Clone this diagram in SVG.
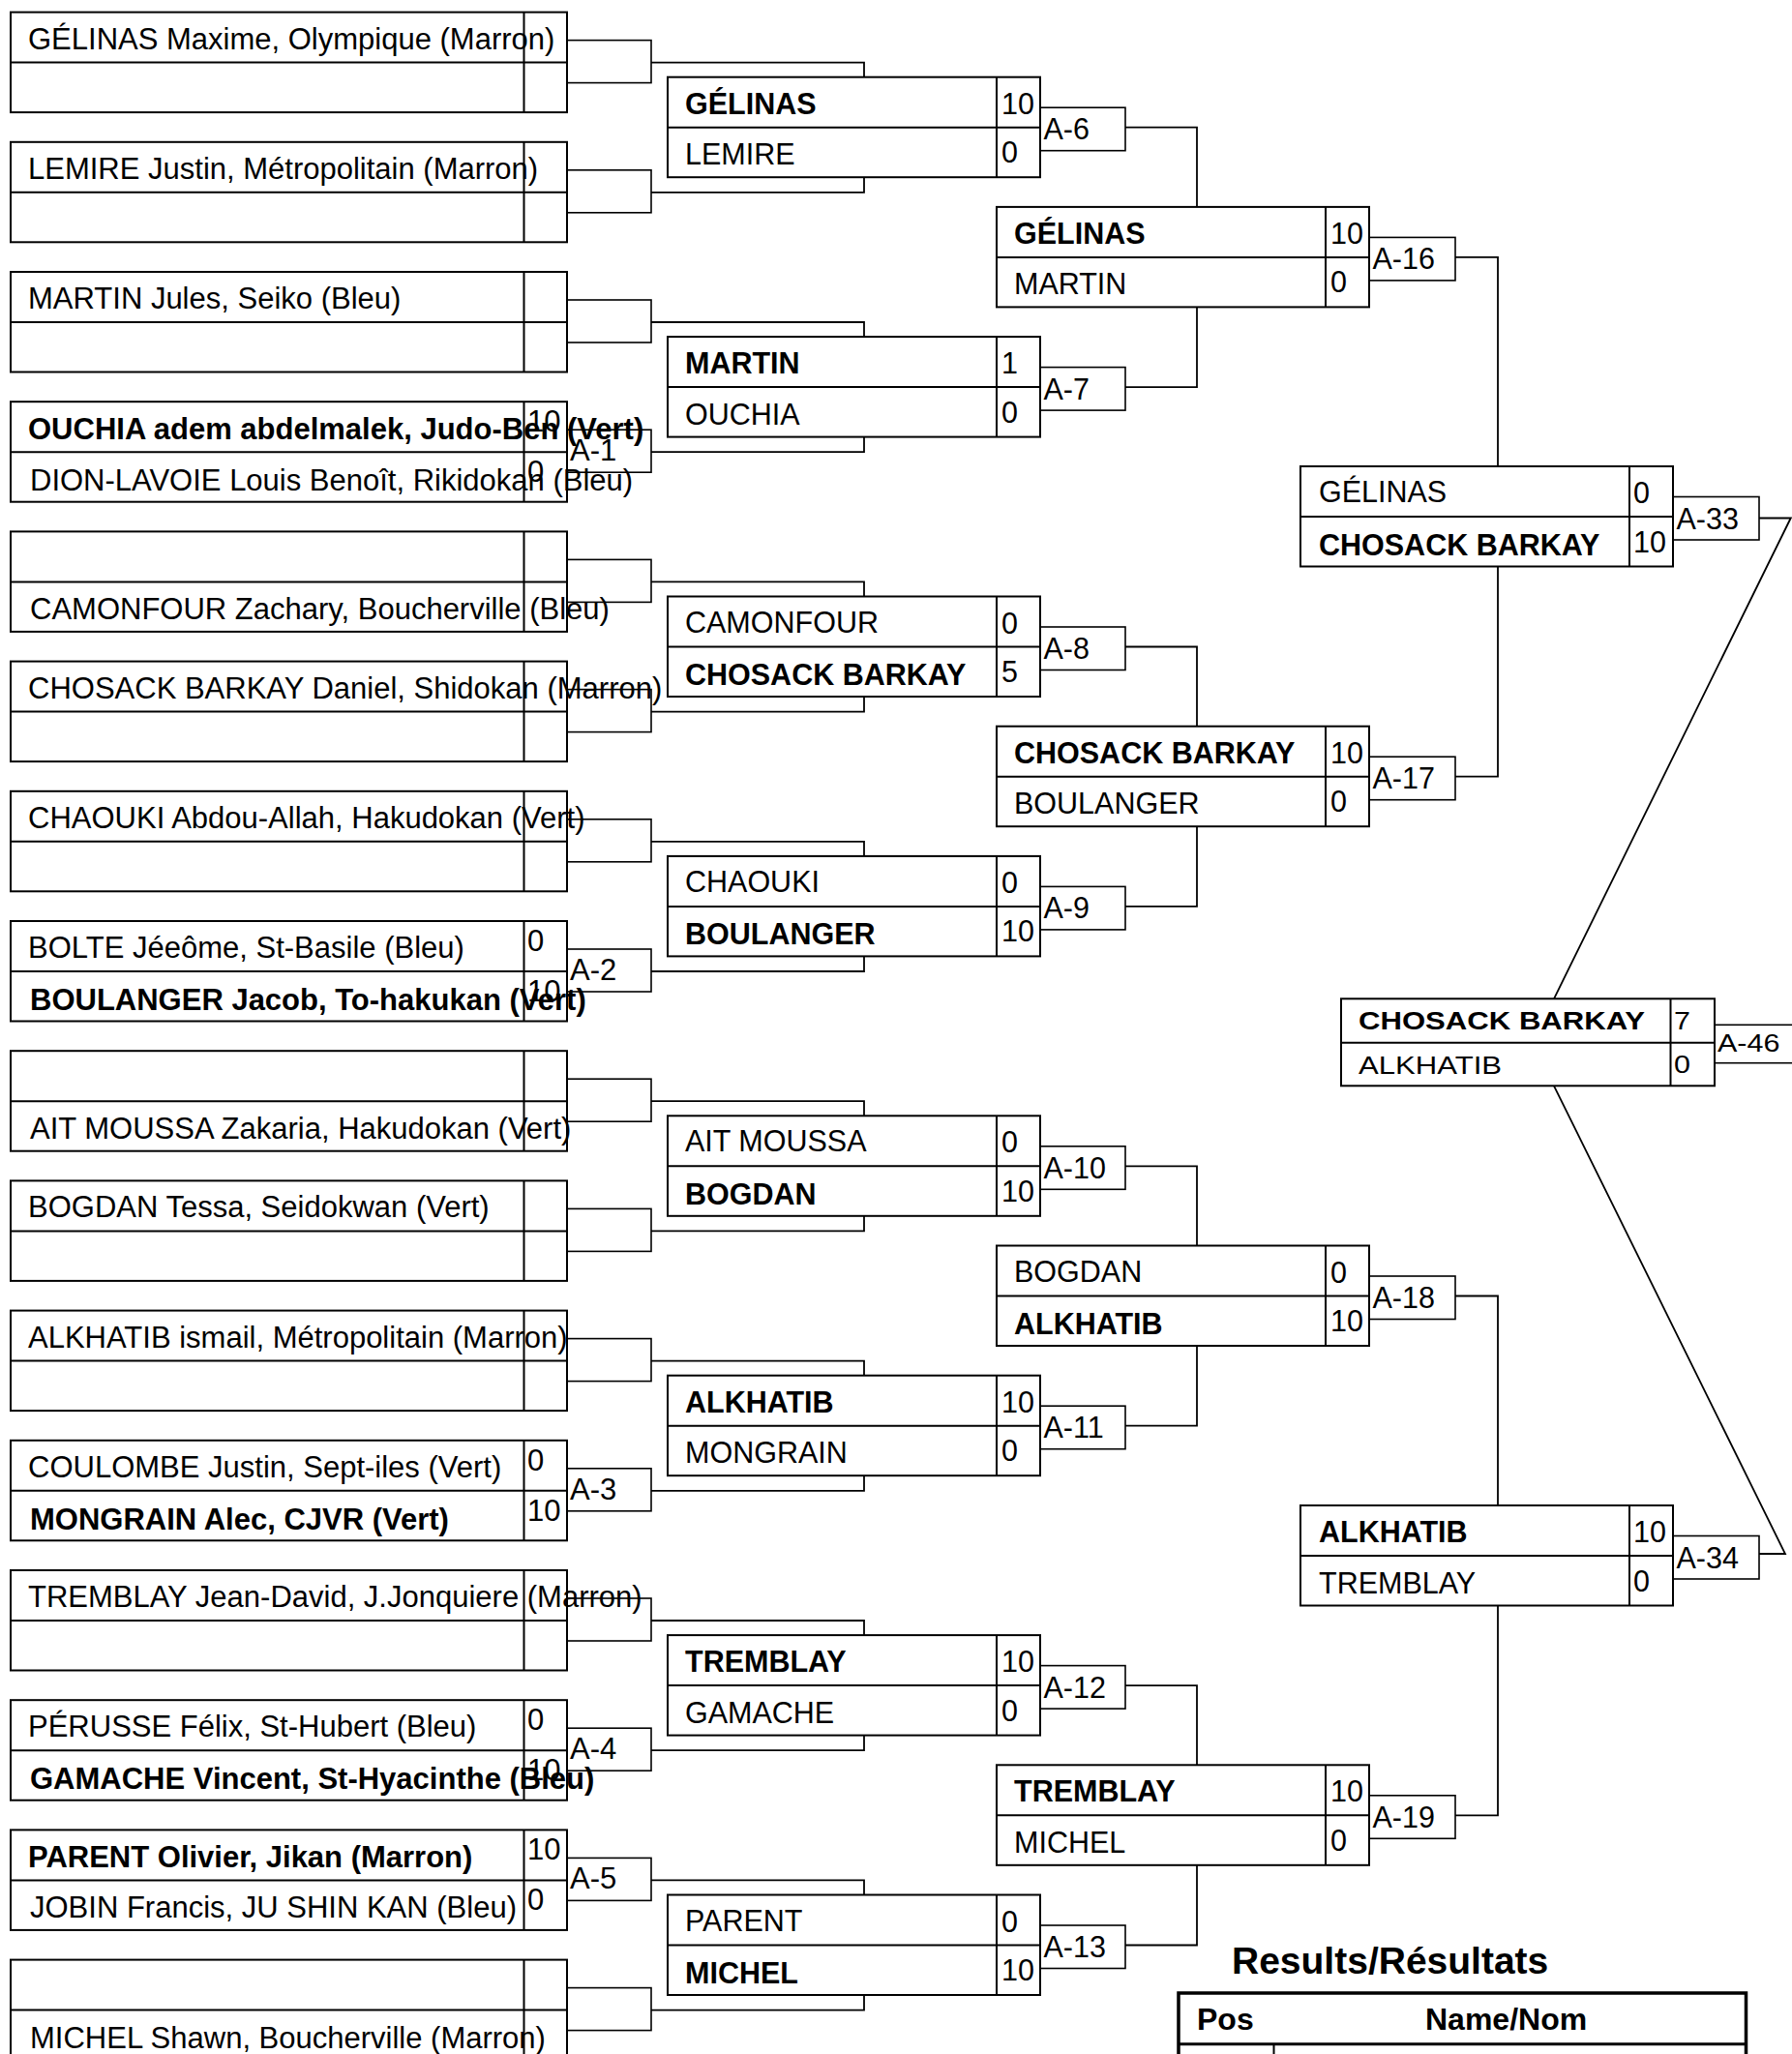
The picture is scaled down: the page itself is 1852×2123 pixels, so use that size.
<svg xmlns="http://www.w3.org/2000/svg" width="1852" height="2123" viewBox="0 0 1852 2123">
<style>
.box{fill:none;stroke:#000;stroke-width:2}
.in{fill:none;stroke:#000;stroke-width:2}
.lab{fill:none;stroke:#000;stroke-width:1.6}
.con{fill:none;stroke:#000;stroke-width:1.8}
text{font-family:"Liberation Sans",Arial,sans-serif;font-size:30.5px;fill:#000}
.t1{font-size:31px}
.b{font-weight:bold}
.ttl{font-weight:bold;font-size:39px}
.hd{font-weight:bold;font-size:32px}
</style>
<rect width="1852" height="2123" fill="#fff"/>

<!-- Round 1 -->
<g id="r1-0" transform="translate(0 64.6)">
<rect class="box" x="11" y="-52" width="575" height="103.5"/><path class="in" d="M11 0H586M541.5 -52V51.5"/><rect class="lab" x="586" y="-23" width="87" height="44"/>
<text class="t1" x="29" y="-14">GÉLINAS Maxime, Olympique (Marron)</text>
</g>
<g id="r1-1" transform="translate(0 198.8)">
<rect class="box" x="11" y="-52" width="575" height="103.5"/><path class="in" d="M11 0H586M541.5 -52V51.5"/><rect class="lab" x="586" y="-23" width="87" height="44"/>
<text class="t1" x="29" y="-14">LEMIRE Justin, Métropolitain (Marron)</text>
</g>
<g id="r1-2" transform="translate(0 333)">
<rect class="box" x="11" y="-52" width="575" height="103.5"/><path class="in" d="M11 0H586M541.5 -52V51.5"/><rect class="lab" x="586" y="-23" width="87" height="44"/>
<text class="t1" x="29" y="-14">MARTIN Jules, Seiko (Bleu)</text>
</g>
<g id="r1-3" transform="translate(0 467.2)">
<rect class="box" x="11" y="-52" width="575" height="103.5"/><path class="in" d="M11 0H586M541.5 -52V51.5"/><rect class="lab" x="586" y="-23" width="87" height="44"/>
<text class="t1 b" x="29" y="-13">OUCHIA adem abdelmalek, Judo-Ben (Vert)</text>
<text class="t1" x="31" y="40">DION-LAVOIE Louis Benoît, Rikidokan (Bleu)</text>
<text class="t1" x="545" y="-21">10</text><text class="t1" x="545" y="31">0</text>
<text class="t1" x="589" y="9">A-1</text>
</g>
<g id="r1-4" transform="translate(0 601.4)">
<rect class="box" x="11" y="-52" width="575" height="103.5"/><path class="in" d="M11 0H586M541.5 -52V51.5"/><rect class="lab" x="586" y="-23" width="87" height="44"/>
<text class="t1" x="31" y="39">CAMONFOUR Zachary, Boucherville (Bleu)</text>
</g>
<g id="r1-5" transform="translate(0 735.6)">
<rect class="box" x="11" y="-52" width="575" height="103.5"/><path class="in" d="M11 0H586M541.5 -52V51.5"/><rect class="lab" x="586" y="-23" width="87" height="44"/>
<text class="t1" x="29" y="-14">CHOSACK BARKAY Daniel, Shidokan (Marron)</text>
</g>
<g id="r1-6" transform="translate(0 869.8)">
<rect class="box" x="11" y="-52" width="575" height="103.5"/><path class="in" d="M11 0H586M541.5 -52V51.5"/><rect class="lab" x="586" y="-23" width="87" height="44"/>
<text class="t1" x="29" y="-14">CHAOUKI Abdou-Allah, Hakudokan (Vert)</text>
</g>
<g id="r1-7" transform="translate(0 1004)">
<rect class="box" x="11" y="-52" width="575" height="103.5"/><path class="in" d="M11 0H586M541.5 -52V51.5"/><rect class="lab" x="586" y="-23" width="87" height="44"/>
<text class="t1" x="29" y="-14">BOLTE Jéeôme, St-Basile (Bleu)</text>
<text class="t1 b" x="31" y="40">BOULANGER Jacob, To-hakukan (Vert)</text>
<text class="t1" x="545" y="-21">0</text><text class="t1" x="545" y="31">10</text>
<text class="t1" x="589" y="9">A-2</text>
</g>
<g id="r1-8" transform="translate(0 1138.2)">
<rect class="box" x="11" y="-52" width="575" height="103.5"/><path class="in" d="M11 0H586M541.5 -52V51.5"/><rect class="lab" x="586" y="-23" width="87" height="44"/>
<text class="t1" x="31" y="39">AIT MOUSSA Zakaria, Hakudokan (Vert)</text>
</g>
<g id="r1-9" transform="translate(0 1272.4)">
<rect class="box" x="11" y="-52" width="575" height="103.5"/><path class="in" d="M11 0H586M541.5 -52V51.5"/><rect class="lab" x="586" y="-23" width="87" height="44"/>
<text class="t1" x="29" y="-14">BOGDAN Tessa, Seidokwan (Vert)</text>
</g>
<g id="r1-10" transform="translate(0 1406.6)">
<rect class="box" x="11" y="-52" width="575" height="103.5"/><path class="in" d="M11 0H586M541.5 -52V51.5"/><rect class="lab" x="586" y="-23" width="87" height="44"/>
<text class="t1" x="29" y="-14">ALKHATIB ismail, Métropolitain (Marron)</text>
</g>
<g id="r1-11" transform="translate(0 1540.8)">
<rect class="box" x="11" y="-52" width="575" height="103.5"/><path class="in" d="M11 0H586M541.5 -52V51.5"/><rect class="lab" x="586" y="-23" width="87" height="44"/>
<text class="t1" x="29" y="-14">COULOMBE Justin, Sept-iles (Vert)</text>
<text class="t1 b" x="31" y="40">MONGRAIN Alec, CJVR (Vert)</text>
<text class="t1" x="545" y="-21">0</text><text class="t1" x="545" y="31">10</text>
<text class="t1" x="589" y="9">A-3</text>
</g>
<g id="r1-12" transform="translate(0 1675)">
<rect class="box" x="11" y="-52" width="575" height="103.5"/><path class="in" d="M11 0H586M541.5 -52V51.5"/><rect class="lab" x="586" y="-23" width="87" height="44"/>
<text class="t1" x="29" y="-14">TREMBLAY Jean-David, J.Jonquiere (Marron)</text>
</g>
<g id="r1-13" transform="translate(0 1809.2)">
<rect class="box" x="11" y="-52" width="575" height="103.5"/><path class="in" d="M11 0H586M541.5 -52V51.5"/><rect class="lab" x="586" y="-23" width="87" height="44"/>
<text class="t1" x="29" y="-14">PÉRUSSE Félix, St-Hubert (Bleu)</text>
<text class="t1 b" x="31" y="40">GAMACHE Vincent, St-Hyacinthe (Bleu)</text>
<text class="t1" x="545" y="-21">0</text><text class="t1" x="545" y="31">10</text>
<text class="t1" x="589" y="9">A-4</text>
</g>
<g id="r1-14" transform="translate(0 1943.4)">
<rect class="box" x="11" y="-52" width="575" height="103.5"/><path class="in" d="M11 0H586M541.5 -52V51.5"/><rect class="lab" x="586" y="-23" width="87" height="44"/>
<text class="t1 b" x="29" y="-13">PARENT Olivier, Jikan (Marron)</text>
<text class="t1" x="31" y="39">JOBIN Francis, JU SHIN KAN (Bleu)</text>
<text class="t1" x="545" y="-21">10</text><text class="t1" x="545" y="31">0</text>
<text class="t1" x="589" y="9">A-5</text>
</g>
<g id="r1-15" transform="translate(0 2077.6)">
<rect class="box" x="11" y="-52" width="575" height="103.5"/><path class="in" d="M11 0H586M541.5 -52V51.5"/><rect class="lab" x="586" y="-23" width="87" height="44"/>
<text class="t1" x="31" y="39">MICHEL Shawn, Boucherville (Marron)</text>
</g>

<!-- Round 2 -->
<g id="r2-0" transform="translate(0 131.7)">
<rect class="box" x="690" y="-52" width="385" height="103.5"/><path class="in" d="M690 0H1075M1030 -52V51.5"/><rect class="lab" x="1075" y="-20.5" width="88" height="44.5"/>
<text class="b" x="708" y="-14">GÉLINAS</text><text x="708" y="38.5">LEMIRE</text>
<text x="1035" y="-14">10</text><text x="1035" y="36.5">0</text><text x="1078.5" y="12.5">A-6</text>
</g>
<g id="r2-1" transform="translate(0 400.1)">
<rect class="box" x="690" y="-52" width="385" height="103.5"/><path class="in" d="M690 0H1075M1030 -52V51.5"/><rect class="lab" x="1075" y="-20.5" width="88" height="44.5"/>
<text class="b" x="708" y="-14">MARTIN</text><text x="708" y="38.5">OUCHIA</text>
<text x="1035" y="-14">1</text><text x="1035" y="36.5">0</text><text x="1078.5" y="12.5">A-7</text>
</g>
<g id="r2-2" transform="translate(0 668.5)">
<rect class="box" x="690" y="-52" width="385" height="103.5"/><path class="in" d="M690 0H1075M1030 -52V51.5"/><rect class="lab" x="1075" y="-20.5" width="88" height="44.5"/>
<text x="708" y="-15">CAMONFOUR</text><text class="b" x="708" y="39.5">CHOSACK BARKAY</text>
<text x="1035" y="-14">0</text><text x="1035" y="36.5">5</text><text x="1078.5" y="12.5">A-8</text>
</g>
<g id="r2-3" transform="translate(0 936.9)">
<rect class="box" x="690" y="-52" width="385" height="103.5"/><path class="in" d="M690 0H1075M1030 -52V51.5"/><rect class="lab" x="1075" y="-20.5" width="88" height="44.5"/>
<text x="708" y="-15">CHAOUKI</text><text class="b" x="708" y="39.5">BOULANGER</text>
<text x="1035" y="-14">0</text><text x="1035" y="36.5">10</text><text x="1078.5" y="12.5">A-9</text>
</g>
<g id="r2-4" transform="translate(0 1205.3)">
<rect class="box" x="690" y="-52" width="385" height="103.5"/><path class="in" d="M690 0H1075M1030 -52V51.5"/><rect class="lab" x="1075" y="-20.5" width="88" height="44.5"/>
<text x="708" y="-15">AIT MOUSSA</text><text class="b" x="708" y="39.5">BOGDAN</text>
<text x="1035" y="-14">0</text><text x="1035" y="36.5">10</text><text x="1078.5" y="12.5">A-10</text>
</g>
<g id="r2-5" transform="translate(0 1473.7)">
<rect class="box" x="690" y="-52" width="385" height="103.5"/><path class="in" d="M690 0H1075M1030 -52V51.5"/><rect class="lab" x="1075" y="-20.5" width="88" height="44.5"/>
<text class="b" x="708" y="-14">ALKHATIB</text><text x="708" y="38.5">MONGRAIN</text>
<text x="1035" y="-14">10</text><text x="1035" y="36.5">0</text><text x="1078.5" y="12.5">A-11</text>
</g>
<g id="r2-6" transform="translate(0 1742.1)">
<rect class="box" x="690" y="-52" width="385" height="103.5"/><path class="in" d="M690 0H1075M1030 -52V51.5"/><rect class="lab" x="1075" y="-20.5" width="88" height="44.5"/>
<text class="b" x="708" y="-14">TREMBLAY</text><text x="708" y="38.5">GAMACHE</text>
<text x="1035" y="-14">10</text><text x="1035" y="36.5">0</text><text x="1078.5" y="12.5">A-12</text>
</g>
<g id="r2-7" transform="translate(0 2010.5)">
<rect class="box" x="690" y="-52" width="385" height="103.5"/><path class="in" d="M690 0H1075M1030 -52V51.5"/><rect class="lab" x="1075" y="-20.5" width="88" height="44.5"/>
<text x="708" y="-15">PARENT</text><text class="b" x="708" y="39.5">MICHEL</text>
<text x="1035" y="-14">0</text><text x="1035" y="36.5">10</text><text x="1078.5" y="12.5">A-13</text>
</g>

<!-- Round 3 -->
<g id="r3-0" transform="translate(0 265.9)">
<rect class="box" x="1030" y="-52" width="385" height="103.5"/><path class="in" d="M1030 0H1415M1370 -52V51.5"/><rect class="lab" x="1415" y="-20.5" width="89" height="44.5"/>
<text class="b" x="1048" y="-14">GÉLINAS</text><text x="1048" y="38.5">MARTIN</text>
<text x="1375" y="-14">10</text><text x="1375" y="36.5">0</text><text x="1418.5" y="12.5">A-16</text>
</g>
<g id="r3-1" transform="translate(0 802.7)">
<rect class="box" x="1030" y="-52" width="385" height="103.5"/><path class="in" d="M1030 0H1415M1370 -52V51.5"/><rect class="lab" x="1415" y="-20.5" width="89" height="44.5"/>
<text class="b" x="1048" y="-14">CHOSACK BARKAY</text><text x="1048" y="38.5">BOULANGER</text>
<text x="1375" y="-14">10</text><text x="1375" y="36.5">0</text><text x="1418.5" y="12.5">A-17</text>
</g>
<g id="r3-2" transform="translate(0 1339.5)">
<rect class="box" x="1030" y="-52" width="385" height="103.5"/><path class="in" d="M1030 0H1415M1370 -52V51.5"/><rect class="lab" x="1415" y="-20.5" width="89" height="44.5"/>
<text x="1048" y="-15">BOGDAN</text><text class="b" x="1048" y="39.5">ALKHATIB</text>
<text x="1375" y="-14">0</text><text x="1375" y="36.5">10</text><text x="1418.5" y="12.5">A-18</text>
</g>
<g id="r3-3" transform="translate(0 1876.3)">
<rect class="box" x="1030" y="-52" width="385" height="103.5"/><path class="in" d="M1030 0H1415M1370 -52V51.5"/><rect class="lab" x="1415" y="-20.5" width="89" height="44.5"/>
<text class="b" x="1048" y="-14">TREMBLAY</text><text x="1048" y="38.5">MICHEL</text>
<text x="1375" y="-14">10</text><text x="1375" y="36.5">0</text><text x="1418.5" y="12.5">A-19</text>
</g>

<!-- Round 4 -->
<g id="r4-0" transform="translate(0 534)">
<rect class="box" x="1344" y="-52" width="385" height="103.5"/><path class="in" d="M1344 0H1729M1684 -52V51.5"/><rect class="lab" x="1729" y="-20.5" width="89" height="44.5"/>
<text x="1363" y="-15">GÉLINAS</text><text class="b" x="1363" y="40">CHOSACK BARKAY</text>
<text x="1688" y="-14">0</text><text x="1688" y="36.5">10</text><text x="1732.5" y="12.5">A-33</text>
</g>
<g id="r4-1" transform="translate(0 1608)">
<rect class="box" x="1344" y="-52" width="385" height="103.5"/><path class="in" d="M1344 0H1729M1684 -52V51.5"/><rect class="lab" x="1729" y="-20.5" width="89" height="44.5"/>
<text class="b" x="1363" y="-14">ALKHATIB</text><text x="1363" y="38.5">TREMBLAY</text>
<text x="1688" y="-14">10</text><text x="1688" y="36.5">0</text><text x="1732.5" y="12.5">A-34</text>
</g>

<!-- Final -->
<g id="final" transform="translate(0 1077.7)">
<rect class="box" x="1386" y="-45.4" width="386" height="90"/><path class="in" d="M1386 0H1772M1726.5 -45.4V44.6"/><rect class="lab" x="1772" y="-18.4" width="90" height="39.4"/>
<text class="b" transform="translate(1404 -13.7) scale(1.02 0.86)">CHOSACK BARKAY</text>
<text transform="translate(1404 32) scale(1.02 0.86)">ALKHATIB</text>
<text transform="translate(1730 -13.7) scale(1 0.86)">7</text>
<text transform="translate(1730 31.6) scale(1 0.86)">0</text>
<text transform="translate(1775 9.6) scale(1 0.86)">A-46</text>
</g>

<!-- Connectors -->
<g id="connectors" class="con">
<path d="M673 64.6H893V79.7M673 198.8H893V183.2M673 333H893V348.1M673 467.2H893V451.6M673 601.4H893V616.5M673 735.6H893V720M673 869.8H893V884.9M673 1004H893V988.4M673 1138.2H893V1153.3M673 1272.4H893V1256.8M673 1406.6H893V1421.7M673 1540.8H893V1525.2M673 1675H893V1690.1M673 1809.2H893V1793.6M673 1943.4H893V1958.5M673 2077.6H893V2062"/>
<path d="M1163 131.7H1237V213.9M1163 400.1H1237V317.4M1163 668.5H1237V750.7M1163 936.9H1237V854.2M1163 1205.3H1237V1287.5M1163 1473.7H1237V1391M1163 1742.1H1237V1824.3M1163 2010.5H1237V1927.8"/>
<path d="M1504 265.9H1548V482M1504 802.7H1548V585.5M1504 1339.5H1548V1556M1504 1876.3H1548V1659.5"/>
<path d="M1818 535.5H1850.7L1606 1032.3M1818 1606H1845L1606 1122.3"/>
</g>

<!-- Results -->
<g id="results">
<text class="ttl" x="1273" y="2040">Results/Résultats</text>
<rect x="1218" y="2060" width="586.5" height="120" fill="none" stroke="#000" stroke-width="3.5"/>
<path d="M1218 2112.7H1804.5" stroke="#000" stroke-width="3"/>
<path d="M1316.5 2113V2130" stroke="#000" stroke-width="2"/>
<text class="hd" x="1237" y="2098">Pos</text>
<text class="hd" x="1473" y="2098">Name/Nom</text>
</g>
</svg>
